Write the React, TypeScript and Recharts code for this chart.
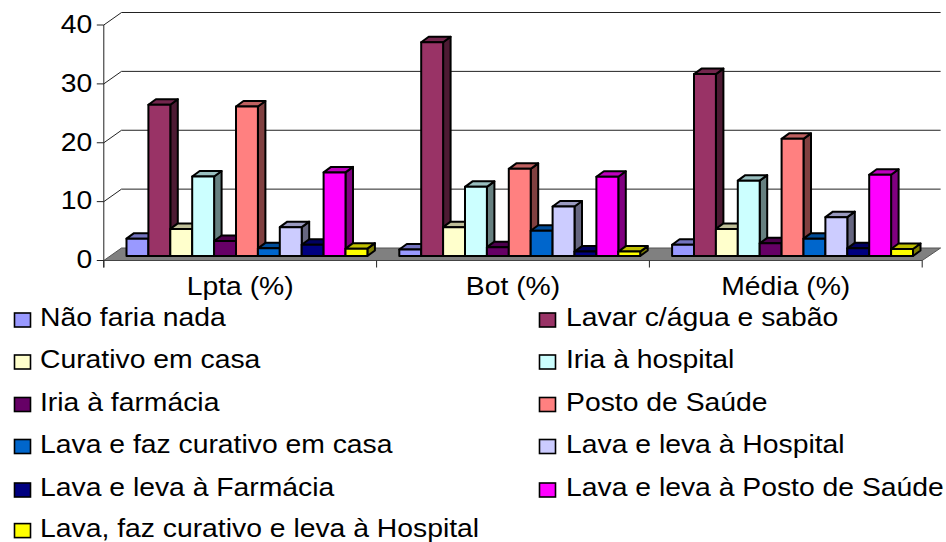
import { BarChart, Bar, XAxis, YAxis, CartesianGrid, Legend } from "recharts";

const categories = ["Lpta (%)", "Bot (%)", "Média (%)"];
const yTicks = [0, 10, 20, 30, 40];

const naoFaria = [2.95, 1.1, 1.9];
const lavarAgua = [25.7, 36.3, 30.9];
const curativoCasa = [4.6, 4.9, 4.6];
const iriaHospital = [13.5, 11.75, 12.8];
const iriaFarmacia = [2.55, 1.5, 2.15];
const postoSaude = [25.4, 14.8, 19.9];
const lavaCurativo = [1.3, 4.3, 2.95];
const lavaHospital = [4.9, 8.4, 6.6];
const lavaFarmacia = [1.9, 0.75, 1.3];
const lavaPosto = [14.2, 13.45, 13.8];
const lavaCurativoHospital = [1.25, 0.75, 1.2];

const series = [
  { key: "Não faria nada", values: naoFaria, color: "#9999ff" },
  { key: "Lavar c/água e sabão", values: lavarAgua, color: "#993366" },
  { key: "Curativo em casa", values: curativoCasa, color: "#ffffcc" },
  { key: "Iria à hospital", values: iriaHospital, color: "#ccffff" },
  { key: "Iria à farmácia", values: iriaFarmacia, color: "#660066" },
  { key: "Posto de Saúde", values: postoSaude, color: "#ff8080" },
  { key: "Lava e faz curativo em casa", values: lavaCurativo, color: "#0066cc" },
  { key: "Lava e leva à Hospital", values: lavaHospital, color: "#ccccff" },
  { key: "Lava e leva à Farmácia", values: lavaFarmacia, color: "#000080" },
  { key: "Lava e leva à Posto de Saúde", values: lavaPosto, color: "#ff00ff" },
  { key: "Lava, faz curativo e leva à Hospital", values: lavaCurativoHospital, color: "#ffff00" },
];

const tableData = categories.map((name, i) => {
  const row: Record<string, string | number> = { name };
  series.forEach((s) => {
    row[s.key] = s.values[i];
  });
  return row;
});

// the bars stand in the middle of the 3d floor, axes sit in front of them and the gridlines behind
const FONT = "'Liberation Sans', Arial, sans-serif";
const LINE = "#222";
const FRONT_DX = -6.7;
const FRONT_DY = 4.5;
const BACK_DX = 11;
const BACK_DY = -8;
const DEPTH_X = 7.5;
const DEPTH_Y = 5.5;
const BAND = 272.8;
const BASELINE = 256;
const TEXT_SCALE = "scale(1.133,1)";

function shade(hex: string, k: number) {
  const n = parseInt(hex.slice(1), 16);
  const c = (v: number) => Math.round(v * k);
  return `rgb(${c((n >> 16) & 255)},${c((n >> 8) & 255)},${c(n & 255)})`;
}

function Bar3D(props: any) {
  const { x, y, width, height, fill } = props;
  const r = x + width;
  const b = y + height;
  const dx = DEPTH_X;
  const dy = DEPTH_Y;
  return (
    <g stroke="#000" strokeWidth={2} strokeLinejoin="round">
      <polygon points={`${r},${y} ${r + dx},${y - dy} ${r + dx},${b - dy} ${r},${b}`} fill={shade(fill, 0.5)} />
      <polygon points={`${x},${y} ${x + dx},${y - dy} ${r + dx},${y - dy} ${r},${y}`} fill={shade(fill, 0.75)} />
      <rect x={x} y={y} width={width} height={height} fill={fill} />
    </g>
  );
}

function GridLine(props: any) {
  const { x1, x2, y1 } = props;
  const left = x1 + FRONT_DX;
  const right = x2 + FRONT_DX;
  const front = y1 + FRONT_DY;
  const backL = x1 + BACK_DX;
  const backR = right + 18.4;
  const back = y1 + BACK_DY;
  // the zero line is the floor
  if (y1 > BASELINE - 1) {
    return <polygon points={`${left},${front} ${backL},${back} ${backR},${back} ${right},${front}`} fill="#808080" stroke="#555" strokeWidth={1} />;
  }
  return (
    <g>
      <line x1={backL} y1={back} x2={backR} y2={back} stroke={LINE} strokeWidth={1} />
      <line x1={left} y1={front} x2={backL} y2={back} stroke={LINE} strokeWidth={1} />
    </g>
  );
}

function YTick(props: any) {
  const { x, y, payload } = props;
  const fy = y + FRONT_DY;
  const ax = x + FRONT_DX;
  return (
    <g>
      <line x1={ax - 7} y1={fy} x2={ax} y2={fy} stroke={LINE} strokeWidth={1} />
      {payload.value === 0 && <line x1={ax} y1={fy - 235.5} x2={ax} y2={fy + 7} stroke={LINE} strokeWidth={1} />}
      <text
        transform={`translate(${x - 18.2},${fy + 7.8}) ${TEXT_SCALE}`}
        textAnchor="end"
        fontFamily={FONT}
        fontSize={25}
        fill="#000"
      >
        {payload.value}
      </text>
    </g>
  );
}

function XTick(props: any) {
  const { x, index, payload, visibleTicksCount } = props;
  const cx = x + FRONT_DX;
  const base = BASELINE + FRONT_DY;
  const lx = cx - BAND / 2;
  return (
    <g>
      <line x1={lx} y1={base} x2={lx} y2={base + 7} stroke={LINE} strokeWidth={1} />
      {index === visibleTicksCount - 1 && (
        <line x1={lx + BAND} y1={base} x2={lx + BAND} y2={base + 7} stroke={LINE} strokeWidth={1} />
      )}
      <line x1={lx} y1={base} x2={lx + BAND} y2={base} stroke="#444" strokeWidth={1} />
      <text transform={`translate(${cx},295) ${TEXT_SCALE}`} textAnchor="middle" fontFamily={FONT} fontSize={25} fill="#000">
        {payload.value}
      </text>
    </g>
  );
}

const legendBaselines = [326, 368, 410.5, 452.5, 496, 536.6];

function LegendBox({ payload }: any) {
  return (
    <svg width={946} height={542} style={{ display: "block" }}>
      {(payload || []).map((entry: any, i: number) => {
        const col = i % 2;
        const row = Math.floor(i / 2);
        const base = legendBaselines[row];
        const mx = col === 0 ? 14.5 : 539.5;
        const tx = col === 0 ? 40 : 566;
        return (
          <g key={entry.value}>
            <rect x={mx} y={base - 13} width={16} height={14} fill={entry.color} stroke="#000" strokeWidth={1.6} />
            <text transform={`translate(${tx},${base}) ${TEXT_SCALE}`} fontFamily={FONT} fontSize={25} fill="#000">
              {entry.value}
            </text>
          </g>
        );
      })}
    </svg>
  );
}

export default function App() {
  return (
    <div style={{ position: "absolute", left: 0, top: 0, width: 946, height: 542, background: "#fff" }}>
      <BarChart
        width={946}
        height={542}
        data={tableData}
        margin={{ top: 20.5, left: 10.5, right: 17.1, bottom: 236 }}
        barGap={0}
        barSize={21.9}
      >
        <CartesianGrid vertical={false} horizontal={GridLine} />
        <XAxis dataKey="name" height={50} axisLine={false} tickLine={false} tick={XTick} interval={0} />
        <YAxis
          width={100}
          domain={[0, 40]}
          ticks={yTicks}
          axisLine={false}
          tickLine={false}
          tickSize={0}
          tickMargin={0}
          tick={YTick}
          interval={0}
        />
        <Legend
          layout="horizontal"
          verticalAlign="middle"
          itemSorter={null}
          content={LegendBox}
          wrapperStyle={{ position: "absolute", left: 0, top: 0, width: 946, height: 542, pointerEvents: "none" }}
        />
        {series.map((s) => (
          <Bar key={s.key} dataKey={s.key} fill={s.color} shape={Bar3D} isAnimationActive={false} />
        ))}
      </BarChart>
    </div>
  );
}
